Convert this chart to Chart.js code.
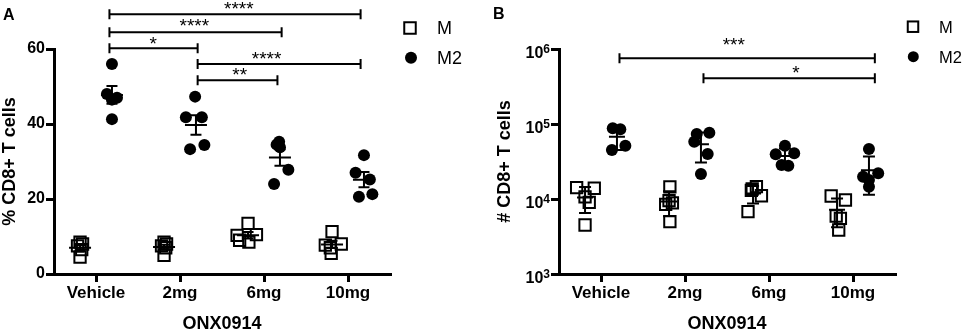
<!DOCTYPE html>
<html>
<head>
<meta charset="utf-8">
<script src="https://cdn.jsdelivr.net/npm/chart.js@4.4.0/dist/chart.umd.min.js"></script>
<style>
  body { margin: 0; background: #fff; }
  #wrap { position: relative; width: 965px; height: 335px; }
  canvas { position: absolute; top: 0; }
</style>
</head>
<body>
<div id="wrap">
  <canvas id="chartA" width="480" height="335" style="left:0"></canvas>
  <canvas id="chartB" width="485" height="335" style="left:480px"></canvas>
</div>
<script>
const categories = ['Vehicle', '2mg', '6mg', '10mg'];
const seriesNames = ['M', 'M2'];

// panel A - % CD8+ T cells, one row per dose
const pctM = [[8.5, 8, 7.5, 6.5, 4.5], [8.5, 8, 7.5, 7, 5], [13.5, 10.5, 10.3, 9, 8.5], [11.3, 8, 7.7, 7, 5.5]];
const pctM2 = [[56, 48, 47, 46.5, 41.3], [47.3, 41.8, 41.8, 34.4, 33.3], [35.3, 34.5, 33.8, 27.8, 24], [31.7, 27, 25.2, 21.3, 20.6]];
// sideways spread of the dots (category units)
const pctMJitter = [[0, 0.03, -0.03, 0.02, 0], [0, 0.03, -0.03, 0.02, 0], [0, 0.1, -0.13, -0.1, 0.01], [0, 0.11, -0.08, -0.02, -0.01]];
const pctM2Jitter = [[0, -0.06, 0.06, 0, 0], [-0.01, -0.12, 0.07, 0.1, -0.07], [-0.01, -0.04, 0, 0.1, -0.07], [0, -0.1, 0.07, 0.1, -0.06]];

// panel B - # CD8+ T cells
const numM = [[14150, 13900, 10700, 9040, 4500], [14500, 9500, 8900, 8500, 5000], [14600, 13600, 13000, 11060, 6780], [10960, 9700, 5930, 5530, 3860]];
const numM2 = [[88000, 85000, 51400, 45000], [76600, 73600, 58000, 39800, 21500], [51400, 40600, 39400, 28400, 27800], [46400, 22000, 19800, 17900, 14600]];
const numMJitter = [[-0.1, 0.11, 0, 0.05, 0], [0.01, 0, 0.04, -0.04, 0.01], [0.04, -0.01, -0.02, 0.1, -0.06], [-0.07, 0.1, -0.01, 0.04, 0.02]];
const numM2Jitter = [[-0.05, 0.04, 0.1, -0.06], [0.1, -0.05, -0.08, 0.08, 0], [0, 0.11, -0.11, -0.04, 0.04], [0, 0.11, -0.07, 0, 0]];

const yTicksA = [0, 20, 40, 60];
const yTicksB = [1e3, 1e4, 1e5, 1e6];

// significance brackets: [from, to, y, stars, starsX, starsY]
const sigA = [
  [0.16, 3.15, 69.3, '****', 1.70, 71.7],
  [0.16, 2.21, 64.5, '****', 1.17, 67.2],
  [0.16, 1.21, 60.2, '*', 0.68, 62.4],
  [1.21, 3.15, 56.0, '****', 2.03, 58.2],
  [1.21, 2.16, 51.7, '**', 1.71, 53.9]
];
const sigB = [
  [0.22, 3.26, 7.52e5, '***', 1.58, 1.25e6],
  [1.22, 3.26, 4.06e5, '*', 2.32, 5.36e5]
];

const shifts = [-0.19, 0.19];
const FONT = '"Liberation Sans", Arial, sans-serif';
Chart.defaults.font.family = FONT;
Chart.defaults.color = '#000';

function mean(a) { return a.reduce((s, v) => s + v, 0) / a.length; }
function sd(a) {
    let m = mean(a);
    return Math.sqrt(a.reduce((s, v) => s + (v - m) * (v - m), 0) / (a.length - 1));
}
function sem(a) { return sd(a) / Math.sqrt(a.length); }

function points(rows, jitter, shift) {
    let out = [];
    rows.forEach((row, i) => row.forEach((v, j) => out.push({ x: i + shift + jitter[i][j], y: v })));
    return out;
}

// mean line + error bar for every group
function meanBars(groups, errFn, half, cap) {
    return {
        id: 'meanBars',
        afterDatasetsDraw(chart) {
            const { ctx, scales: { x, y } } = chart;
            ctx.save();
            ctx.strokeStyle = '#000';
            ctx.lineWidth = 2;
            groups.forEach((rows, g) => {
                rows.forEach((vals, i) => {
                    let m = mean(vals), e = errFn(vals);
                    let px = x.getPixelForValue(i + shifts[g]);
                    let pm = y.getPixelForValue(m), pt = y.getPixelForValue(m + e), pb = y.getPixelForValue(m - e);
                    ctx.beginPath();
                    ctx.moveTo(px - half, pm); ctx.lineTo(px + half, pm);
                    ctx.moveTo(px, pt); ctx.lineTo(px, pb);
                    ctx.moveTo(px - cap, pt); ctx.lineTo(px + cap, pt);
                    ctx.moveTo(px - cap, pb); ctx.lineTo(px + cap, pb);
                    ctx.stroke();
                });
            });
            ctx.restore();
        }
    };
}

function brackets(list) {
    return {
        id: 'brackets',
        afterDraw(chart) {
            const { ctx, scales: { x, y } } = chart;
            ctx.save();
            ctx.strokeStyle = '#000';
            ctx.fillStyle = '#000';
            ctx.lineWidth = 2;
            ctx.font = '19px ' + FONT;
            ctx.textAlign = 'center';
            ctx.textBaseline = 'alphabetic';
            list.forEach(([a, b, v, stars, sx, sy]) => {
                let x1 = x.getPixelForValue(a), x2 = x.getPixelForValue(b), py = y.getPixelForValue(v);
                ctx.beginPath();
                ctx.moveTo(x1, py); ctx.lineTo(x2, py);
                ctx.moveTo(x1, py - 5); ctx.lineTo(x1, py + 5);
                ctx.moveTo(x2, py - 5); ctx.lineTo(x2, py + 5);
                ctx.stroke();
                let m = ctx.measureText(stars);
                let cy = y.getPixelForValue(sy);
                ctx.fillText(stars, x.getPixelForValue(sx), cy + (m.actualBoundingBoxAscent - m.actualBoundingBoxDescent) / 2);
            });
            ctx.restore();
        }
    };
}

// panel letter + legend
function decor(letter, letterY, lg) {
    return {
        id: 'decor',
        afterDraw(chart) {
            const ctx = chart.ctx;
            ctx.save();
            ctx.fillStyle = '#000';
            ctx.font = 'bold 16px ' + FONT;
            ctx.textAlign = 'left';
            ctx.fillText(letter, lg.letterX, letterY);
            // legend
            ctx.strokeStyle = '#000';
            ctx.lineWidth = 2;
            ctx.strokeRect(lg.sq[0] - lg.side / 2, lg.sq[1] - lg.side / 2, lg.side, lg.side);
            ctx.beginPath();
            ctx.arc(lg.dot[0], lg.dot[1], lg.r, 0, Math.PI * 2);
            ctx.fill();
            ctx.font = lg.size + 'px ' + FONT;
            ctx.fillText(seriesNames[0], lg.textX, lg.sq[1] + lg.size * 0.358);
            ctx.fillText(seriesNames[1], lg.textX, lg.dot[1] + lg.size * 0.358);
            ctx.restore();
        }
    };
}

// 10^n labels for the log axis
const powerLabels = {
    id: 'powerLabels',
    afterDraw(chart) {
        const { ctx, scales: { y } } = chart;
        ctx.save();
        ctx.fillStyle = '#000';
        ctx.textBaseline = 'alphabetic';
        ctx.textAlign = 'left';
        yTicksB.forEach(v => {
            let py = y.getPixelForValue(v);
            let exp = String(Math.round(Math.log10(v)));
            ctx.font = 'bold 12px ' + FONT;
            let ew = ctx.measureText(exp).width;
            ctx.font = 'bold 16px ' + FONT;
            let bw = ctx.measureText('10').width;
            let right = y.right - 9;
            ctx.fillText('10', right - ew - bw, py + 8.5);
            ctx.font = 'bold 12px ' + FONT;
            ctx.fillText(exp, right - ew, py + 3.5);
        });
        ctx.restore();
    }
};

function makeChart(id, cfg) {
    const xScale = {
        type: 'linear', min: -0.5, max: 3.5,
        afterBuildTicks: s => { s.ticks = categories.map((c, i) => ({ value: i })); },
        afterFit: s => { s.height = 61; },
        border: { color: '#000', width: 3 },
        grid: { drawOnChartArea: false, color: '#000', lineWidth: 3, tickLength: 8 },
        ticks: { callback: v => categories[v], font: { size: 17, weight: 'bold' }, padding: 1, autoSkip: false, maxRotation: 0 },
        title: { display: true, text: 'ONX0914', font: { size: 18, weight: 'bold' }, padding: 0 }
    };
    return new Chart(document.getElementById(id), {
        type: 'scatter',
        data: {
            datasets: [
                { label: seriesNames[0], data: cfg.m, pointStyle: 'rect', pointRadius: 8, pointBorderWidth: 2, pointBorderColor: '#000', pointBackgroundColor: 'rgba(0,0,0,0)' },
                { label: seriesNames[1], data: cfg.m2, pointStyle: 'circle', pointRadius: 6, pointBorderWidth: 0, pointBackgroundColor: '#000' }
            ]
        },
        options: {
            responsive: false,
            animation: false,
            events: [],
            layout: { padding: { top: 49, left: 0, right: cfg.right, bottom: 0 } },
            plugins: { legend: { display: false }, tooltip: { enabled: false } },
            scales: { x: xScale, y: cfg.y }
        },
        plugins: cfg.plugins
    });
}

makeChart('chartA', {
    m: points(pctM, pctMJitter, shifts[0]),
    m2: points(pctM2, pctM2Jitter, shifts[1]),
    right: 90,
    y: {
        type: 'linear', min: 0, max: 60,
        afterBuildTicks: s => { s.ticks = yTicksA.map(v => ({ value: v })); },
        afterFit: s => { s.width = 54; },
        border: { color: '#000', width: 3 },
        grid: { drawOnChartArea: false, color: '#000', lineWidth: 3, tickLength: 8 },
        ticks: { font: { size: 16, weight: 'bold' }, padding: 1 },
        title: { display: true, text: '% CD8+ T cells', font: { size: 18, weight: 'bold' }, padding: { top: -1 } }
    },
    plugins: [
        meanBars([pctM, pctM2], sem, 11, 5.5),
        brackets(sigA),
        decor('A', 20, { letterX: 3, sq: [410, 28], dot: [411, 57.7], side: 11.5, r: 6, textX: 437, size: 18 })
    ]
});

makeChart('chartB', {
    m: points(numM, numMJitter, shifts[0]),
    m2: points(numM2, numM2Jitter, shifts[1]),
    right: 70,
    y: {
        type: 'logarithmic', min: 1e3, max: 1e6,
        afterBuildTicks: s => { s.ticks = yTicksB.map(v => ({ value: v })); },
        afterFit: s => { s.width = 79; },
        border: { color: '#000', width: 3 },
        grid: { drawOnChartArea: false, color: '#000', lineWidth: 3, tickLength: 8 },
        ticks: { callback: () => '', font: { size: 16, weight: 'bold' }, padding: 1 },
        title: { display: true, text: '# CD8+ T cells', font: { size: 18, weight: 'bold' }, padding: { top: 14 } }
    },
    plugins: [
        meanBars([numM, numM2], sd, 8, 6),
        brackets(sigB),
        powerLabels,
        decor('B', 19, { letterX: 13, sq: [433, 26.7], dot: [433.3, 56.7], side: 10.5, r: 5.5, textX: 459, size: 16.5 })
    ]
});
</script>
</body>
</html>
